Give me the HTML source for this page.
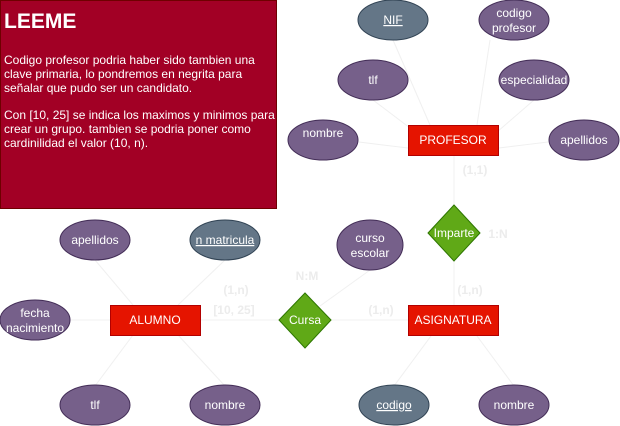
<!DOCTYPE html>
<html><head><meta charset="utf-8"><style>
html,body{margin:0;padding:0;background:#fff;}
svg{display:block;font-family:"Liberation Sans",Arial,sans-serif;}
</style></head><body>
<svg width="620" height="426" viewBox="0 0 620 426" xmlns="http://www.w3.org/2000/svg">
<rect x="0.5" y="0.5" width="276" height="208" fill="#a20025" stroke="#6f0000"/>
<text x="4" y="28" fill="#fff" font-size="21" font-weight="bold">LEEME</text>
<g fill="#fff" font-size="12">
<text x="4" y="64">Codigo profesor podria haber sido tambien una</text>
<text x="4" y="78">clave primaria, lo pondremos en negrita para</text>
<text x="4" y="92">señalar que pudo ser un candidato.</text>
<text x="4" y="119">Con [10, 25] se indica los maximos y minimos para</text>
<text x="4" y="133">crear un grupo. tambien se podria poner como</text>
<text x="4" y="147">cardinilidad el valor (10, n).</text>
</g>
<g stroke="#f0f0f0" stroke-width="1" fill="none">
<line x1="393" y1="40" x2="430" y2="125"/>
<line x1="490" y1="40" x2="477" y2="125"/>
<line x1="373" y1="100" x2="410" y2="128"/>
<line x1="534" y1="100" x2="497" y2="132"/>
<line x1="359" y1="142" x2="408" y2="148"/>
<line x1="548" y1="142" x2="499" y2="148"/>
<line x1="454" y1="155" x2="454" y2="305"/>
<line x1="200" y1="320" x2="408" y2="320"/>
<line x1="320" y1="306" x2="370" y2="270"/>
<line x1="95" y1="260" x2="133" y2="305"/>
<line x1="225" y1="260" x2="178" y2="305"/>
<line x1="70" y1="320" x2="110" y2="320"/>
<line x1="95" y1="386" x2="133" y2="335"/>
<line x1="225" y1="386" x2="178" y2="335"/>
<line x1="394" y1="386" x2="431" y2="336"/>
<line x1="514" y1="386" x2="477" y2="336"/>
</g>
<g font-size="12" font-weight="bold" fill="#ececec" text-anchor="middle">
<text x="475" y="174">(1,1)</text>
<text x="498" y="238">1:N</text>
<text x="470" y="294">(1,n)</text>
<text x="307" y="280">N:M</text>
<text x="236" y="294">(1,n)</text>
<text x="234" y="314">[10, 25]</text>
<text x="381" y="314">(1,n)</text>
</g>
<g stroke-width="1">
<rect x="408.5" y="125.5" width="90" height="30" fill="#e51400" stroke="#b20000"/>
<rect x="408.5" y="305.5" width="90" height="30" fill="#e51400" stroke="#b20000"/>
<rect x="110.5" y="305.5" width="90" height="30" fill="#e51400" stroke="#b20000"/>
<polygon points="454,205 480,233 454,261 428,233" fill="#60a917" stroke="#2d7600"/>
<polygon points="305,293 331,320 305,348 279,320" fill="#60a917" stroke="#2d7600"/>
<g fill="#76608a" stroke="#432d57">
<ellipse cx="514" cy="20" rx="35" ry="20"/>
<ellipse cx="373" cy="80" rx="35" ry="20"/>
<ellipse cx="534" cy="80" rx="35" ry="20"/>
<ellipse cx="323" cy="140" rx="35" ry="20"/>
<ellipse cx="584" cy="140" rx="35" ry="20"/>
<ellipse cx="370" cy="245" rx="33" ry="25"/>
<ellipse cx="95" cy="240" rx="35" ry="20"/>
<ellipse cx="35" cy="320" rx="35" ry="20"/>
<ellipse cx="95" cy="405" rx="35" ry="20"/>
<ellipse cx="225" cy="405" rx="35" ry="20"/>
<ellipse cx="514" cy="405" rx="35" ry="20"/>
</g>
<g fill="#647687" stroke="#314354">
<ellipse cx="393" cy="20" rx="35" ry="20"/>
<ellipse cx="225" cy="240" rx="35" ry="20"/>
<ellipse cx="394" cy="405" rx="35" ry="20"/>
</g>
</g>
<g fill="#fff" font-size="12" text-anchor="middle">
<text x="453" y="144">PROFESOR</text>
<text x="453" y="324">ASIGNATURA</text>
<text x="155" y="324">ALUMNO</text>
<text x="454" y="237">Imparte</text>
<text x="305" y="324">Cursa</text>
<text x="393" y="24" text-decoration="underline">NIF</text>
<text x="514" y="17">codigo</text>
<text x="514" y="32">profesor</text>
<text x="373" y="84">tlf</text>
<text x="534" y="84">especialidad</text>
<text x="323" y="137">nombre</text>
<text x="584" y="144">apellidos</text>
<text x="370" y="242">curso</text>
<text x="370" y="257">escolar</text>
<text x="95" y="244">apellidos</text>
<text x="225" y="244" text-decoration="underline">n matricula</text>
<text x="35" y="317">fecha</text>
<text x="35" y="332">nacimiento</text>
<text x="95" y="409">tlf</text>
<text x="225" y="409">nombre</text>
<text x="394" y="409" text-decoration="underline">codigo</text>
<text x="514" y="409">nombre</text>
</g>
</svg>
</body></html>
